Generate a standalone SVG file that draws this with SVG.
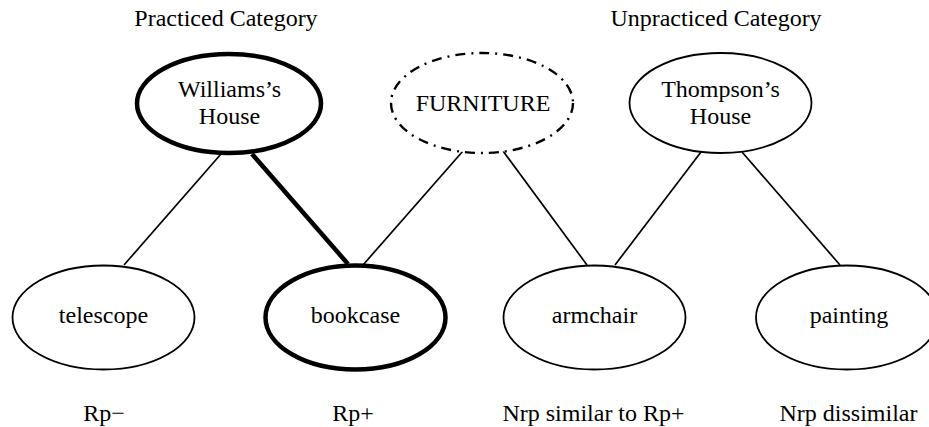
<svg xmlns="http://www.w3.org/2000/svg" width="929" height="427" viewBox="0 0 929 427">
<style>
text{font-family:"Liberation Serif","Times New Roman",serif;font-size:24px;fill:#000;text-anchor:middle}
.n{fill:#fff;stroke:#000;stroke-width:1.8}
.thick{stroke-width:4.5}
.dd{stroke-width:2.4;stroke-dasharray:10 6 2 6}
.c{stroke:#000;stroke-width:1.7;fill:none}
.ct{stroke-width:4.5}
</style>
<rect width="929" height="427" fill="#fff"/>
<text x="226" y="26">Practiced Category</text>
<text x="716" y="26">Unpracticed Category</text>
<g id="connectors">
<line class="c" x1="221" y1="154" x2="124" y2="265"/>
<line class="c ct" x1="252" y1="154" x2="348" y2="264"/>
<line class="c" x1="463" y1="151" x2="363" y2="265"/>
<line class="c" x1="503" y1="151" x2="587" y2="265"/>
<line class="c" x1="701" y1="152" x2="615" y2="265"/>
<line class="c" x1="742" y1="152" x2="840" y2="265"/>
</g>
<g id="williams">
<ellipse class="n thick" cx="229" cy="103.5" rx="92" ry="49.5"/>
<text x="229.5" y="97">Williams’s</text>
<text x="229.5" y="124">House</text>
</g>
<g id="furniture">
<ellipse class="n dd" cx="482" cy="103" rx="91" ry="50"/>
<text x="483" y="111">FURNITURE</text>
</g>
<g id="thompson">
<ellipse class="n" cx="720.5" cy="103" rx="91" ry="50"/>
<text x="720.5" y="97">Thompson’s</text>
<text x="720.5" y="124">House</text>
</g>
<g id="telescope">
<ellipse class="n" cx="103.5" cy="317.5" rx="91" ry="52"/>
<text x="103.5" y="323">telescope</text>
</g>
<g id="bookcase">
<ellipse class="n thick" cx="355.5" cy="317.5" rx="90" ry="52"/>
<text x="355.5" y="323">bookcase</text>
</g>
<g id="armchair">
<ellipse class="n" cx="594.5" cy="317.5" rx="91" ry="52"/>
<text x="594.5" y="323">armchair</text>
</g>
<g id="painting">
<ellipse class="n" cx="847" cy="317.5" rx="91" ry="52"/>
<text x="849" y="323">painting</text>
</g>
<text x="104" y="421">Rp−</text>
<text x="353" y="421">Rp+</text>
<text x="593.5" y="421">Nrp similar to Rp+</text>
<text x="848.5" y="421">Nrp dissimilar</text>
</svg>
